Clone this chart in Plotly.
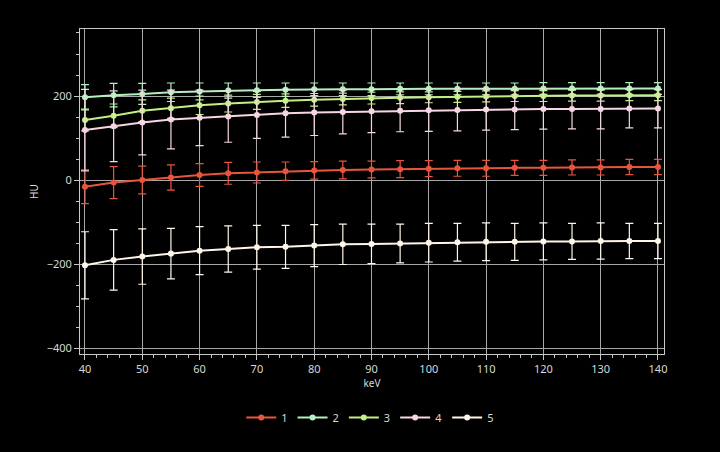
import plotly.graph_objects as go

# keV energy levels
kev = [40, 45, 50, 55, 60, 65, 70, 75, 80, 85, 90, 95, 100, 105, 110, 115, 120, 125, 130, 135, 140]

# mean HU per series
hu_1 = [-16, -6, 0, 6, 12, 16, 18, 21, 23, 24, 25, 26, 27, 28, 28, 29, 29, 30, 30, 31, 31]
hu_2 = [197, 202, 205, 209, 211, 213, 214, 215, 216, 216, 216, 217, 217, 217, 217, 217, 218, 218, 218, 218, 218]
hu_3 = [143, 153, 165, 171, 178, 182, 186, 189, 191, 193, 195, 196, 197, 198, 199, 200, 200, 201, 201, 202, 202]
hu_4 = [119, 128, 137, 144, 148, 151, 155, 159, 161, 162, 164, 165, 166, 167, 168, 168, 169, 169, 169, 170, 170]
hu_5 = [-203, -190, -182, -175, -168, -164, -160, -159, -156, -153, -152, -151, -149, -148, -147, -147, -146, -146, -145, -145, -145]

# standard deviations (error bars)
sd_1 = [40, 38, 33, 30, 27, 26, 25, 22, 21, 21, 20, 20, 19, 19, 19, 18, 18, 18, 18, 18, 18]
sd_2 = [30, 28, 25, 22, 20, 18, 17, 16, 15, 15, 15, 14, 14, 14, 14, 14, 14, 14, 14, 14, 14]
sd_3 = [26, 28, 26, 24, 22, 20, 18, 16, 15, 14, 14, 14, 13, 13, 13, 13, 13, 13, 13, 13, 13]
sd_4 = [97, 84, 77, 70, 66, 61, 56, 57, 55, 52, 51, 50, 50, 50, 49, 48, 48, 47, 47, 46, 46]
sd_5 = [80, 72, 66, 60, 57, 55, 52, 51, 50, 48, 47, 46, 46, 45, 45, 44, 44, 43, 43, 42, 42]

names = ["1", "2", "3", "4", "5"]
colors = ["#e8553f", "#b4efc0", "#c2f084", "#f6d6e4", "#fff6ea"]
series = [hu_1, hu_2, hu_3, hu_4, hu_5]
errors = [sd_1, sd_2, sd_3, sd_4, sd_5]

fig = go.Figure()
for name, col, ys, es in zip(names, colors, series, errors):
    fig.add_trace(go.Scatter(
        x=kev, y=ys, name=name, mode="lines+markers",
        line=dict(color=col, width=2),
        marker=dict(color=col, size=6),
        error_y=dict(type="data", array=es, visible=True, color=col, thickness=1.2, width=4),
    ))

axis_font = dict(family="Noto Sans, sans-serif", size=11, color="#d8d8d8")

fig.update_layout(
    width=720, height=452,
    paper_bgcolor="#000000",
    plot_bgcolor="#000000",
    font=axis_font,
    margin=dict(l=80, r=56, t=29, b=98),
    showlegend=True,
    legend=dict(
        orientation="h", x=0.497, xanchor="center", y=-0.195, yanchor="middle",
        font=dict(family="Noto Sans, sans-serif", size=11, color="#d8d8d8"),
        bgcolor="rgba(0,0,0,0)", itemwidth=30, tracegroupgap=0,
    ),
    xaxis=dict(
        range=[39.13, 141.05], tickvals=[40, 50, 60, 70, 80, 90, 100, 110, 120, 130, 140],
        showgrid=True, gridcolor="#a8a8a8", gridwidth=1, zeroline=False,
        showline=True, linecolor="#c8c8c8", linewidth=1, mirror=True,
        ticks="outside", ticklen=5, tickcolor="#c8c8c8",
        minor=dict(dtick=2, ticks="outside", ticklen=3, tickcolor="#c8c8c8", showgrid=False),
        title=dict(text="keV", font=dict(size=10, color="#d8d8d8"), standoff=4),
        tickfont=axis_font,
    ),
    yaxis=dict(
        range=[-414, 359.5], tickvals=[-400, -200, 0, 200],
        showgrid=True, gridcolor="#a8a8a8", gridwidth=1, zeroline=False,
        showline=True, linecolor="#c8c8c8", linewidth=1, mirror=True,
        ticks="outside", ticklen=5, tickcolor="#c8c8c8",
        minor=dict(dtick=50, ticks="outside", ticklen=3, tickcolor="#c8c8c8", showgrid=False),
        title=dict(text="HU", font=dict(size=10, color="#d8d8d8"), standoff=6),
        tickfont=axis_font,
    ),
)

# drop the page's default body margin so the figure sits at the window's corner
fig.write_html(
    "out.html",
    config={"displayModeBar": False},
    post_script="document.body.style.margin='0';document.body.style.background='#000';",
)
